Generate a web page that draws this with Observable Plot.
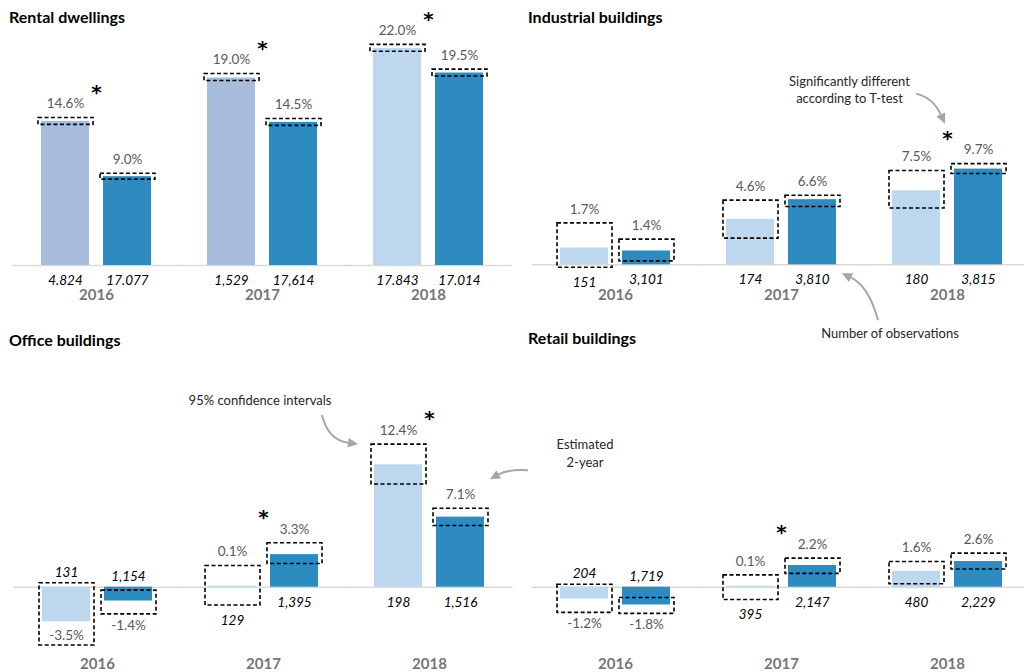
<!DOCTYPE html>
<html>
<head>
<meta charset="utf-8">
<script src="https://cdn.jsdelivr.net/npm/d3@7"></script>
<script src="https://cdn.jsdelivr.net/npm/@observablehq/plot@0.6"></script>
<style>
  body { margin: 0; background: #fff; font-family: Lato, "Open Sans", sans-serif; }
  #fig { position: relative; width: 1024px; height: 672px; overflow: hidden; }
  .panel { position: absolute; }
  .panel svg { position: absolute; left: 0; top: 0; overflow: visible; }
  .title { position: absolute; font-weight: 700; font-size: 16px; line-height: 18px; color: #000; white-space: nowrap; z-index: 2; }
  #notes { position: absolute; left: 0; top: 0; pointer-events: none; z-index: 3; }
</style>
</head>
<body>
<div id="fig"></div>
<script>
// ---- data -------------------------------------------------------------
const years = ["2016", "2017", "2018"];
const dealTypes = ["Share deals", "Asset deals"];

// Estimated 2-year growth (%), order: 2016 share, 2016 asset, 2017 share, 2017 asset, 2018 share, 2018 asset
const rentalGrowth = [14.6, 9.0, 19.0, 14.5, 22.0, 19.5];
const rentalLower  = [14.25, 8.7, 18.7, 14.15, 21.65, 19.15];
const rentalUpper  = [14.95, 9.3, 19.4, 14.85, 22.35, 19.85];
const rentalN      = ["4.824", "17.077", "1,529", "17,614", "17.843", "17.014"];
const rentalSignificant = ["2016", "2017", "2018"];

const industrialGrowth = [1.7, 1.4, 4.6, 6.6, 7.5, 9.7];
const industrialLower  = [-0.3, 0.35, 2.65, 5.85, 5.7, 9.2];
const industrialUpper  = [4.2, 2.55, 6.5, 7.0, 9.5, 10.2];
const industrialN      = ["151", "3,101", "174", "3,810", "180", "3,815"];
const industrialSignificant = ["2018"];

const officeGrowth = [-3.5, -1.4, 0.1, 3.3, 12.4, 7.1];
const officeLower  = [-5.9, -2.75, -1.85, 2.35, 10.4, 6.2];
const officeUpper  = [0.4, -0.35, 2.15, 4.45, 14.45, 7.95];
const officeN      = ["131", "1,154", "129", "1,395", "198", "1,516"];
const officeSignificant = ["2017", "2018"];

const retailGrowth = [-1.2, -1.8, 0.1, 2.2, 1.6, 2.6];
const retailLower  = [-2.6, -2.7, -1.3, 1.35, 0.3, 1.8];
const retailUpper  = [0.25, -1.1, 1.2, 2.9, 2.55, 3.4];
const retailN      = ["204", "1,719", "395", "2,147", "480", "2,229"];
const retailSignificant = ["2017"];

// ---- styling ----------------------------------------------------------
const PX = 9.87;                 // pixels per percentage point, shared by all panels
const SHARE = "#bdd7ee", SHARE_MUTED = "#a8bddb", ASSET = "#2e8bc0";
const LABEL = "#595959", YEAR = "#767676", ARROW = "#a6a6a6";
const FONT = "Lato, 'Open Sans', sans-serif";

function rowsOf(growth, lower, upper, n) {
  return growth.map((v, i) => ({
    year: years[Math.floor(i / 2)],
    type: dealTypes[i % 2],
    value: v, lower: lower[i], upper: upper[i], n: n[i]
  }));
}

const panels = [
  {name: "Rental dwellings", rows: rowsOf(rentalGrowth, rentalLower, rentalUpper, rentalN), sig: rentalSignificant,
   mutedShare: ["2016", "2017"], left: 0, top: 0, height: 320, base: 265, ml: 40, mr: 29, yearDy: -25, tx: 9, ty: 8},
  {name: "Industrial buildings", rows: rowsOf(industrialGrowth, industrialLower, industrialUpper, industrialN), sig: industrialSignificant,
   mutedShare: [], left: 512, top: 0, height: 320, base: 264.3, ml: 47, mr: 22, yearDy: -25.5, tx: 16, ty: 8},
  {name: "Office buildings", rows: rowsOf(officeGrowth, officeLower, officeUpper, officeN), sig: officeSignificant,
   mutedShare: [], left: 0, top: 320, height: 352, base: 266.7, ml: 41, mr: 28, yearDy: -8.7, tx: 9, ty: 11},
  {name: "Retail buildings", rows: rowsOf(retailGrowth, retailLower, retailUpper, retailN), sig: retailSignificant,
   mutedShare: [], left: 512, top: 320, height: 352, base: 266.7, ml: 47, mr: 22, yearDy: -8.7, tx: 16, ty: 9}
];

const fig = document.getElementById("fig");

function valueLabelY(d) {
  if (d.value >= 0) return d.upper + 14 / PX;
  // deep intervals keep the label inside the box, clear of the year labels
  return d.lower < -4 ? d.lower + 10 / PX : d.lower - 11 / PX;
}
function countLabelY(d) {
  return d.value >= 0 ? Math.min(0, d.lower) - 15 / PX : Math.max(0, d.upper) + 11 / PX;
}

for (const p of panels) {
  const div = document.createElement("div");
  div.className = "panel";
  Object.assign(div.style, {left: p.left + "px", top: p.top + "px", width: "512px", height: p.height + "px"});

  const stars = p.sig.map(y => ({
    year: y,
    top: d3.max(p.rows.filter(r => r.year === y), r => r.upper)
  }));

  const plot = Plot.plot({
    width: 512,
    height: p.height,
    marginTop: 0, marginBottom: 0, marginLeft: p.ml, marginRight: p.mr,
    style: {fontFamily: FONT, overflow: "visible", background: "transparent"},
    fx: {domain: years, paddingInner: 0.34, paddingOuter: 0, axis: null},
    x: {domain: dealTypes, paddingInner: 14 / 62, paddingOuter: 0, axis: null},
    y: {domain: [-(p.height - p.base) / PX, p.base / PX], axis: null},
    color: {type: "identity"},
    marks: [
      Plot.ruleY([0], {stroke: "#d9d9d9", strokeWidth: 1.5, insetLeft: -28.5, insetRight: -28.5}),
      Plot.barY(p.rows, {
        fx: "year", x: "type", y1: 0, y2: "value",
        fill: d => d.type === dealTypes[1] ? ASSET : (p.mutedShare.includes(d.year) ? SHARE_MUTED : SHARE)
      }),
      Plot.barY(p.rows, {
        fx: "year", x: "type", y1: "lower", y2: "upper",
        fill: "none", stroke: "#000", strokeWidth: 1.6, strokeDasharray: "4,2.5",
        insetLeft: -3, insetRight: -4
      }),
      Plot.text(p.rows, {
        fx: "year", x: "type", y: valueLabelY,
        text: d => d.value.toFixed(1) + "%", fill: LABEL, fontSize: 13.5
      }),
      Plot.text(p.rows, {
        fx: "year", x: "type", y: countLabelY,
        text: "n", fill: "#000", fontSize: 13.5, fontStyle: "italic"
      }),
      Plot.text(stars, {
        fx: "year", y: d => d.top + 25.6 / PX,
        text: () => "*", fill: "#000", fontSize: 20, fontWeight: 700,
        fontFamily: "'DejaVu Sans', sans-serif"
      }),
      Plot.text(years, {
        fx: d => d, text: d => d, frameAnchor: "bottom", lineAnchor: "middle", dy: p.yearDy,
        fill: YEAR, fontSize: 15, fontWeight: 700
      })
    ]
  });
  div.appendChild(plot);

  const title = document.createElement("div");
  title.className = "title";
  title.textContent = p.name;
  Object.assign(title.style, {left: p.tx + "px", top: p.ty + "px"});
  div.appendChild(title);
  fig.appendChild(div);
  p.plot = plot;
}

// ---- annotations, anchored to marks through each panel's scales -------
function anchor(p, year, type) {
  const fx = p.plot.scale("fx"), x = p.plot.scale("x");
  const x0 = p.left + fx.apply(year);
  if (!type) return x0 + fx.bandwidth / 2;
  return x0 + x.apply(type) - x.range[0];
}
function py(p, v) { return p.top + p.plot.scale("y").apply(v); }

const [rental, industrial, office, retail] = panels;
const bw = office.plot.scale("x").bandwidth;

const notes = d3.select(fig).append("svg")
  .attr("id", "notes").attr("width", 1024).attr("height", 672)
  .style("font-family", FONT);

function curvedArrow(a, tail, ctrl, tip) {
  const T = [a[0] + tail[0], a[1] + tail[1]];
  const C = [a[0] + ctrl[0], a[1] + ctrl[1]];
  const P = [a[0] + tip[0], a[1] + tip[1]];
  const dx = P[0] - C[0], dy = P[1] - C[1], len = Math.hypot(dx, dy);
  const ux = dx / len, uy = dy / len, L = 10, W = 4.8;
  const B = [P[0] - ux * L, P[1] - uy * L];
  notes.append("path")
    .attr("d", `M${T[0]},${T[1]}Q${C[0]},${C[1]} ${B[0]},${B[1]}`)
    .attr("fill", "none").attr("stroke", ARROW).attr("stroke-width", 2);
  notes.append("path")
    .attr("d", `M${P[0]},${P[1]}L${B[0] - uy * W},${B[1] + ux * W}L${B[0] + uy * W},${B[1] - ux * W}Z`)
    .attr("fill", ARROW);
}
function note(a, off, lines) {
  lines.forEach((s, i) => {
    notes.append("text")
      .attr("x", a[0] + off[0]).attr("y", a[1] + off[1] + i * 17.5)
      .attr("text-anchor", "middle").attr("dominant-baseline", "central")
      .attr("font-size", 13).attr("fill", "#262626").text(s);
  });
}

// significance marker of industrial 2018
const indStar = industrial.rows.filter(r => r.year === "2018");
const A = [anchor(industrial, "2018"), py(industrial, d3.max(indStar, r => r.upper)) - 31];
note(A, [-97.5, -52], ["Significantly different", "according to T-test"]);
curvedArrow(A, [-31, -39], [-14, -35], [-2, -9]);

// count label of industrial 2017 asset deals
const indAsset17 = industrial.rows.find(r => r.year === "2017" && r.type === dealTypes[1]);
const B = [anchor(industrial, "2017", dealTypes[1]) + bw / 2, py(industrial, countLabelY(indAsset17))];
note(B, [78, 54], ["Number of observations"]);
curvedArrow(B, [66, 41], [57, 7], [30, -6]);

// confidence box of office 2018 share deals
const offShare18 = office.rows.find(r => r.year === "2018" && r.type === dealTypes[0]);
const C = [anchor(office, "2018", dealTypes[0]) - 3, py(office, offShare18.upper)];
note(C, [-111, -44], ["95% confidence intervals"]);
curvedArrow(C, [-49, -29], [-43, -4], [-13, 0]);

// bar of office 2018 asset deals
const offAsset18 = office.rows.find(r => r.year === "2018" && r.type === dealTypes[1]);
const D = [anchor(office, "2018", dealTypes[1]) + bw + 4, py(office, offAsset18.upper)];
note(D, [97, -64], ["Estimated", "2-year"]);
curvedArrow(D, [40, -38], [20, -39], [2, -29]);
</script>
</body>
</html>
